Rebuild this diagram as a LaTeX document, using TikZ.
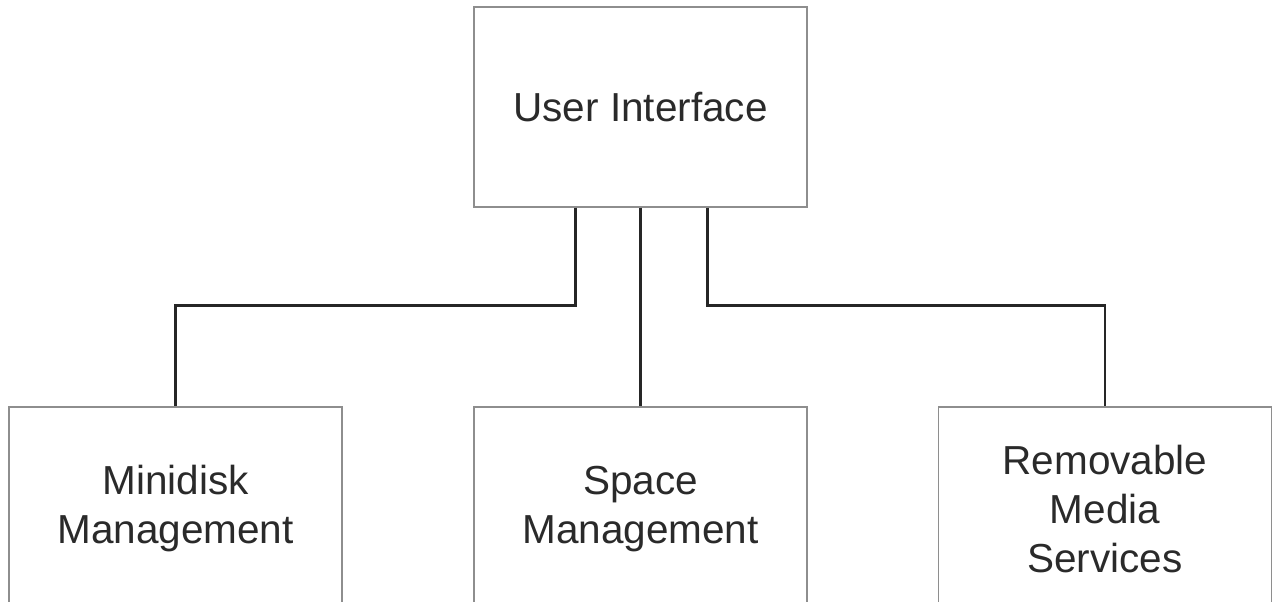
\documentclass[tikz,border=0pt]{standalone}
\usepackage{fontspec}
\setmainfont{Liberation Sans}
\definecolor{boxline}{HTML}{8E8E8E}
\definecolor{conn}{HTML}{262626}
\definecolor{txt}{HTML}{2A2A2A}
\begin{document}
\begin{tikzpicture}[x=1pt,y=-1pt,
  block/.style={draw=boxline,line width=1.2pt,rectangle,minimum width=333pt,
    align=center,text=txt,inner sep=0pt,
    font=\fontsize{40.5}{49}\selectfont},
  link/.style={draw=conn,line width=2.3pt}]
\useasboundingbox (0,0) rectangle (1272,602);
\clip (0,0) rectangle (1272,602);
\node[block,minimum height=200pt] (ui) at (640.5,107) {User Interface};
\node[block,minimum height=204pt] (md) at (175.5,509) {Minidisk\\Management};
\node[block,minimum height=204pt] (sm) at (640.5,509) {Space\\Management};
\node[block,minimum height=204pt] (rm) at (1105,509) {Removable\\Media\\Services};
\draw[link] ([xshift=-65pt]ui.south) -- ++(0,98) -| (md.north);
\draw[link] (ui.south) -- (sm.north);
\draw[link] ([xshift=67pt]ui.south) -- ++(0,98) -| (rm.north);
\end{tikzpicture}
\end{document}
